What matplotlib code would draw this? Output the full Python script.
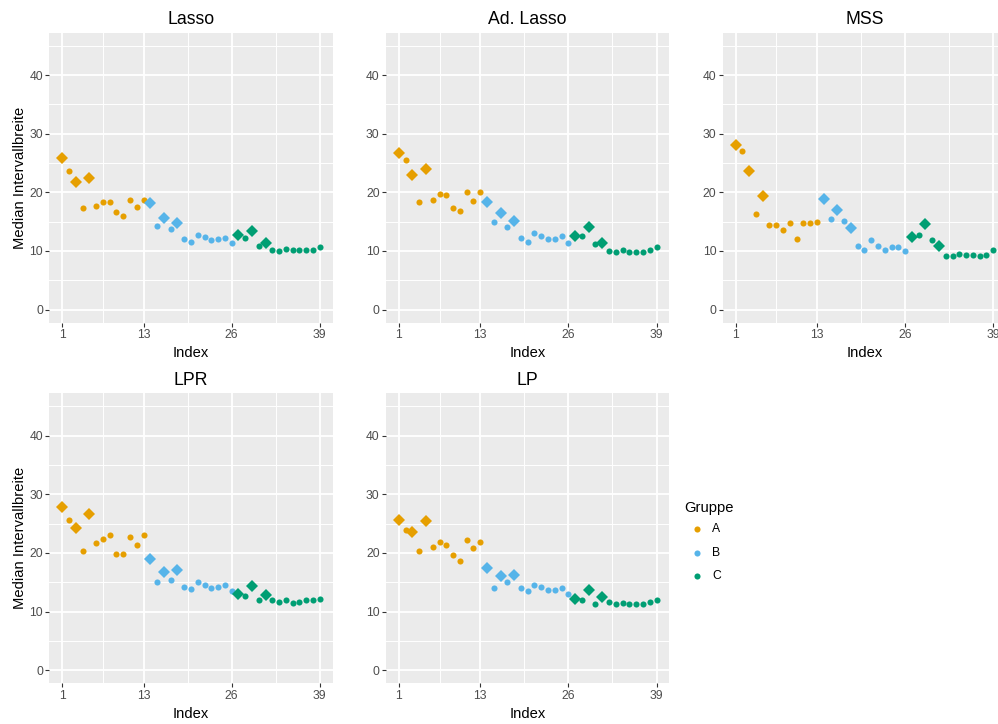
import numpy as np
import matplotlib
matplotlib.use("Agg")
import matplotlib.pyplot as plt

plt.rcParams['font.family'] = ['Liberation Sans', 'DejaVu Sans']

# ---- data -------------------------------------------------------------
index = list(range(1, 40))
groups = ["A"] * 13 + ["B"] * 13 + ["C"] * 13
highlight = [1, 3, 5, 14, 16, 18, 27, 29, 31]   # drawn as diamonds

lasso = [25.8, 23.6, 21.7, 17.4, 22.4, 17.7, 18.4, 18.3, 16.6, 15.9, 18.7, 17.5, 18.7,
         18.1, 14.3, 15.7, 13.7, 14.8, 12.1, 11.5, 12.7, 12.3, 11.8, 12.0, 12.2, 11.3,
         12.7, 12.2, 13.4, 10.9, 11.4, 10.2, 10.0, 10.3, 10.1, 10.1, 10.1, 10.2, 10.6]
ad_lasso = [26.8, 25.5, 22.9, 18.3, 23.9, 18.7, 19.7, 19.5, 17.4, 16.8, 20.1, 18.5, 20.1,
            18.4, 15.0, 16.4, 14.1, 15.1, 12.2, 11.5, 13.1, 12.5, 12.0, 12.0, 12.5, 11.3,
            12.5, 12.6, 14.1, 11.2, 11.3, 10.0, 9.8, 10.2, 9.8, 9.9, 9.9, 10.1, 10.7]
mss = [28.1, 27.0, 23.6, 16.3, 19.4, 14.4, 14.4, 13.5, 14.7, 12.0, 14.7, 14.7, 15.0,
       18.9, 15.4, 17.0, 15.1, 13.9, 10.8, 10.2, 11.8, 10.9, 10.2, 10.6, 10.6, 10.0,
       12.4, 12.8, 14.6, 11.9, 10.9, 9.2, 9.1, 9.4, 9.3, 9.3, 9.2, 9.3, 10.2]
lpr = [27.8, 25.7, 24.2, 20.4, 26.7, 21.7, 22.4, 23.0, 19.9, 19.8, 22.8, 21.3, 23.1,
       19.0, 15.1, 16.7, 15.3, 17.1, 14.2, 13.8, 15.1, 14.6, 14.1, 14.2, 14.6, 13.5,
       13.0, 12.7, 14.4, 11.9, 12.9, 12.0, 11.7, 12.0, 11.5, 11.6, 11.9, 11.9, 12.2]
lp = [25.7, 23.9, 23.5, 20.4, 25.5, 21.0, 21.8, 21.4, 19.6, 18.7, 22.2, 20.8, 21.9,
      17.5, 14.1, 16.1, 15.0, 16.3, 14.1, 13.5, 14.5, 14.2, 13.6, 13.6, 14.1, 13.0,
      12.2, 12.0, 13.7, 11.3, 12.5, 11.6, 11.3, 11.5, 11.3, 11.3, 11.3, 11.6, 12.0]

panels = [("Lasso", lasso), ("Ad. Lasso", ad_lasso), ("MSS", mss),
          ("LPR", lpr), ("LP", lp)]

group_names = ["A", "B", "C"]
group_colors = {"A": "#E69F00", "B": "#56B4E9", "C": "#009E73"}

x_ticks = [1, 13, 26, 39]
y_ticks = [0, 10, 20, 30, 40]

# ---- layout (pixels) -------------------------------------------------
W, H = 998, 724
fig = plt.figure(figsize=(W / 100, H / 100), dpi=100)

panel_w, panel_h = 283.4, 290.0
col_left = [49.3, 386.0, 722.7]
row_top = [32.7, 393.3]
positions = [(0, 0), (0, 1), (0, 2), (1, 0), (1, 1)]

tick_col = "#4D4D4D"

for (title, vals), (r, c) in zip(panels, positions):
    left, top = col_left[c], row_top[r]
    ax = fig.add_axes([left / W, 1 - (top + panel_h) / H, panel_w / W, panel_h / H])
    ax.set_facecolor("#EBEBEB")
    for s in ax.spines.values():
        s.set_visible(False)

    ax.set_xlim(1 - 0.05 * 38, 39 + 0.05 * 38)
    ax.set_ylim(0 - 0.05 * 45, 45 + 0.05 * 45)
    ax.set_xticks(x_ticks)
    ax.set_yticks(y_ticks)
    ax.set_xticks([7, 19.5, 32.5], minor=True)
    ax.set_yticks([5, 15, 25, 35, 45], minor=True)
    ax.grid(which="major", color="white", linewidth=1.35)
    ax.grid(which="minor", color="white", linewidth=0.7)
    ax.set_axisbelow(True)
    ax.tick_params(which="major", length=2.6, width=0.8, color="#333333",
                   labelsize=8.7, labelcolor=tick_col, pad=2)
    ax.tick_params(which="minor", length=0)

    x = np.array(index)
    v = np.array(vals)
    g = np.array(groups)
    hl = np.isin(x, highlight)
    for name in group_names:
        m = g == name
        ax.plot(x[m & ~hl], v[m & ~hl], "o", ms=4.4, mew=0,
                color=group_colors[name], zorder=3)
        ax.plot(x[m & hl], v[m & hl], "D", ms=5.8, mew=0,
                color=group_colors[name], zorder=3)

    ax.set_title(title, fontsize=12.7, pad=6)
    ax.set_xlabel("Index", fontsize=10.6, labelpad=3.5)
    if c == 0:
        ax.set_ylabel("Median Intervallbreite", fontsize=10.6, labelpad=2)

# ---- legend ------------------------------------------------------------
lax = fig.add_axes([0, 0, 1, 1])
lax.set_xlim(0, W)
lax.set_ylim(H, 0)
lax.axis("off")
lax.text(684, 508, "Gruppe", fontsize=10.6, va="center", ha="left")
for i, name in enumerate(group_names):
    y = 529 + i * 23.5
    lax.plot([697], [y], "o", ms=4.4, mew=0, color=group_colors[name])
    lax.text(712, y, name, fontsize=8.7, va="center", ha="left")

fig.savefig("out.png", dpi=100)
